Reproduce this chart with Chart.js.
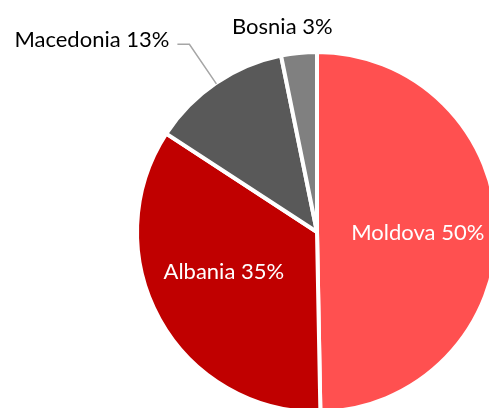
<!DOCTYPE html>
<html>
<head>
<meta charset="utf-8">
<script src="https://cdn.jsdelivr.net/npm/chart.js@4.4.0/dist/chart.umd.min.js"></script>
<style>
  html, body { margin: 0; padding: 0; background: #fff; overflow: hidden; }
  #wrap { position: absolute; left: 0; top: 0; width: 600px; height: 500px; }
</style>
</head>
<body>
<div id="wrap"><canvas id="pie"></canvas></div>
<script>
// values (share of total, clockwise from 12 o'clock)
const countries = ['Moldova', 'Albania', 'Macedonia', 'Bosnia'];
const shares = [49.7, 34.5, 12.6, 3.2];
const sliceColors = ['#FF5050', '#C00000', '#595959', '#808080'];

// label placement per slice: inside / outside, plus small nudges
const labelStyle = [
  {inside: true, r: 0.56, dx: 0, dy: 2},
  {inside: true, r: 0.56, dx: -5, dy: -9},
  {inside: false, r: 227, leader: true},
  {inside: false, r: 206, dx: -14, dy: 0},
];

const pieLabels = {
  id: 'pieLabels',
  afterDatasetsDraw(chart) {
    const ctx = chart.ctx;
    const meta = chart.getDatasetMeta(0);
    const total = shares.reduce((a, b) => a + b, 0);
    ctx.save();
    ctx.font = '22px Lato, "Noto Sans", sans-serif';
    ctx.textBaseline = 'middle';
    meta.data.forEach((arc, i) => {
      const p = arc.getProps(['x', 'y', 'startAngle', 'endAngle', 'outerRadius'], true);
      const mid = (p.startAngle + p.endAngle) / 2;
      const st = labelStyle[i];
      const text = countries[i] + ' ' + Math.round(shares[i] / total * 100) + '%';
      if (st.inside) {
        const r = p.outerRadius * st.r;
        ctx.fillStyle = '#fff';
        ctx.textAlign = 'center';
        ctx.fillText(text, p.x + Math.cos(mid) * r + st.dx, p.y + Math.sin(mid) * r + st.dy);
      } else if (st.leader) {
        const x0 = p.x + Math.cos(mid) * (p.outerRadius - 1);
        const y0 = p.y + Math.sin(mid) * (p.outerRadius - 1);
        const x1 = p.x + Math.cos(mid) * st.r;
        const y1 = p.y + Math.sin(mid) * st.r;
        ctx.strokeStyle = '#A6A6A6';
        ctx.lineWidth = 1.5;
        ctx.beginPath();
        ctx.moveTo(x0, y0);
        ctx.lineTo(x1, y1);
        ctx.lineTo(x1 - 12, y1);
        ctx.stroke();
        ctx.fillStyle = '#000';
        ctx.textAlign = 'right';
        ctx.fillText(text, x1 - 20, y1 - 4);
      } else {
        ctx.fillStyle = '#000';
        ctx.textAlign = 'center';
        ctx.fillText(text, p.x + Math.cos(mid) * st.r + st.dx, p.y + Math.sin(mid) * st.r + st.dy);
      }
    });
    ctx.restore();
  },
};

new Chart(document.getElementById('pie'), {
  type: 'pie',
  data: {
    labels: countries,
    datasets: [{
      data: shares,
      backgroundColor: sliceColors,
      borderColor: '#fff',
      borderWidth: 4,
    }],
  },
  options: {
    responsive: true,
    maintainAspectRatio: false,
    animation: false,
    layout: {
      // pie centred near (317, 232), radius ~182, cropped by the window
      padding: {left: 135, top: 50, right: 101, bottom: 86},
    },
    plugins: {
      legend: {display: false},
      tooltip: {enabled: false},
    },
  },
  plugins: [pieLabels],
});
</script>
</body>
</html>
